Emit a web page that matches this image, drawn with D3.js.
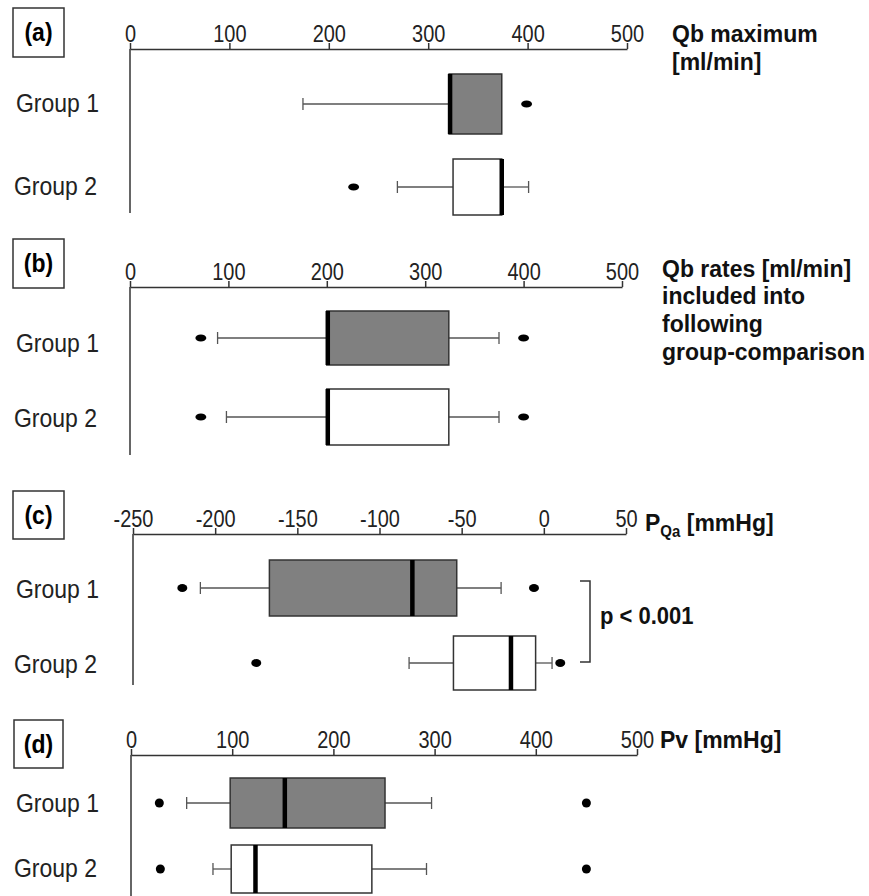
<!DOCTYPE html>
<html>
<head>
<meta charset="utf-8">
<script src="https://cdn.jsdelivr.net/npm/d3@7"></script>
<style>
body { margin: 0; background: #fff; }
svg text { font-family: "Liberation Sans", Arial, sans-serif; }
.tick text { font-size: 21px; fill: #222; }
.domain, .tick line { stroke: #333; stroke-width: 1.5; }
</style>
</head>
<body>
<svg id="chart" width="869" height="896"></svg>
<script>
// box stats per group: [whisker low, q1, median, q3, whisker high]
var groups = ["Group 1", "Group 2"];

var qbMaxStats = [[174, 321, 322, 374, 374], [269, 325, 374, 374, 401]];
var qbMaxOutliers = [[399], [225]];

var qbRatesStats = [[89, 200, 201, 324, 375], [98, 200, 201, 324, 375]];
var qbRatesOutliers = [[72, 400], [72, 400]];

var pqaStats = [[-209, -167, -80, -53, -26], [-82, -55, -20, -5, 5]];
var pqaOutliers = [[-220, -6], [-175, 10]];

var pvStats = [[55, 98, 152, 251, 297], [81, 99, 123, 238, 292]];
var pvOutliers = [[28, 450], [29, 450]];

var ticks0to500 = [0, 100, 200, 300, 400, 500];
var ticksPqa = [-250, -200, -150, -100, -50, 0, 50];

var svg = d3.select("#chart");

// panel layout (pixel positions only)
var panels = [
	{ tag: "(a)", stats: qbMaxStats, outliers: qbMaxOutliers, domain: [0, 500], ticks: ticks0to500,
	  x0: 130, x1: 627, axisY: 49, bottom: 213, cy: [104, 187], half: [30, 28], box: [13, 8, 51, 49],
	  labelY: [112, 195], dot: [5.5, 3.5] },
	{ tag: "(b)", stats: qbRatesStats, outliers: qbRatesOutliers, domain: [0, 500], ticks: ticks0to500,
	  x0: 130, x1: 622, axisY: 287, bottom: 455, cy: [338, 417], half: [27, 28], box: [13, 239, 51, 49],
	  labelY: [352, 427], dot: [5.5, 3.5] },
	{ tag: "(c)", stats: pqaStats, outliers: pqaOutliers, domain: [-250, 50], ticks: ticksPqa,
	  x0: 133, x1: 626, axisY: 534, bottom: 685, cy: [588, 663], half: [28, 27], box: [13, 491, 51, 48],
	  labelY: [598, 673], dot: [5, 4] },
	{ tag: "(d)", stats: pvStats, outliers: pvOutliers, domain: [0, 500], ticks: ticks0to500,
	  x0: 131, x1: 637, axisY: 755, bottom: 896, cy: [803, 869], half: [25, 24], box: [14, 720, 49, 48],
	  labelY: [812, 877], dot: [4.5, 4.5] }
];

var fills = ["#808080", "#ffffff"];

panels.forEach(function(p) {
	var g = svg.append("g");
	var x = d3.scaleLinear().domain(p.domain).range([p.x0, p.x1]);
	var y = d3.scalePoint().domain(groups).range(p.cy);

	// panel tag box
	g.append("rect")
		.attr("x", p.box[0]).attr("y", p.box[1])
		.attr("width", p.box[2]).attr("height", p.box[3])
		.attr("fill", "none").attr("stroke", "#333").attr("stroke-width", 1.5);
	g.append("text")
		.attr("transform", "translate(" + (p.box[0] + p.box[2] / 2) + "," + (p.box[1] + 33) + ") scale(1,1.15)")
		.attr("text-anchor", "middle")
		.attr("font-size", 23).attr("font-weight", "bold")
		.text(p.tag);

	// axes
	g.append("g")
		.attr("transform", "translate(0," + p.axisY + ")")
		.call(d3.axisTop(x).tickValues(p.ticks).tickSize(6).tickSizeOuter(0).tickPadding(0)
			.tickFormat(function(d) { return String(d); }))
		.selectAll(".tick text")
		.attr("transform", "scale(0.95,1.12)");
	g.append("line")
		.attr("x1", p.x0).attr("x2", p.x0)
		.attr("y1", p.axisY).attr("y2", p.bottom)
		.attr("stroke", "#333").attr("stroke-width", 1.5);

	// group labels
	groups.forEach(function(name, i) {
		g.append("text")
			.attr("transform", "translate(" + (i == 0 ? 16 : 14) + "," + p.labelY[i] + ") scale(1,1.1)")
			.attr("font-size", 23).attr("fill", "#222")
			.text(name);
	});

	// boxes
	p.stats.forEach(function(s, i) {
		var cy = y(groups[i]), h = p.half[i];
		// whiskers
		g.append("line")
			.attr("x1", x(s[0])).attr("x2", x(s[1]))
			.attr("y1", cy).attr("y2", cy)
			.attr("stroke", "#555").attr("stroke-width", 1.3);
		g.append("line")
			.attr("x1", x(s[3])).attr("x2", x(s[4]))
			.attr("y1", cy).attr("y2", cy)
			.attr("stroke", "#555").attr("stroke-width", 1.3);
		[s[0], s[4]].forEach(function(v, k) {
			if (v == s[k == 0 ? 1 : 3]) return;
			g.append("line")
				.attr("x1", x(v)).attr("x2", x(v))
				.attr("y1", cy - 6).attr("y2", cy + 6)
				.attr("stroke", "#555").attr("stroke-width", 1.3);
		});
		g.append("rect")
			.attr("x", x(s[1])).attr("y", cy - h)
			.attr("width", x(s[3]) - x(s[1])).attr("height", 2 * h)
			.attr("fill", fills[i]).attr("stroke", "#333").attr("stroke-width", 1.5);
		g.append("line")
			.attr("x1", x(s[2])).attr("x2", x(s[2]))
			.attr("y1", cy - h).attr("y2", cy + h)
			.attr("stroke", "#000").attr("stroke-width", 4.5);
		p.outliers[i].forEach(function(v) {
			g.append("ellipse")
				.attr("cx", x(v)).attr("cy", cy)
				.attr("rx", p.dot[0]).attr("ry", p.dot[1])
				.attr("fill", "#000");
		});
	});
});

// axis titles on the right
function bold(xp, yp, str, size) {
	return svg.append("text")
		.attr("transform", "translate(" + xp + "," + yp + ") scale(1,1.05)")
		.attr("font-size", size || 23).attr("font-weight", "bold").attr("fill", "#111")
		.text(str);
}
bold(672, 42, "Qb maximum");
bold(672, 70, "[ml/min]");
bold(662, 277, "Qb rates [ml/min]");
bold(662, 304, "included into");
bold(662, 332, "following");
bold(662, 360, "group-comparison");

var pqa = svg.append("text")
	.attr("transform", "translate(645,531) scale(1,1.05)")
	.attr("font-size", 23).attr("font-weight", "bold").attr("fill", "#111");
pqa.append("tspan").text("P");
pqa.append("tspan").attr("font-size", 15).attr("dy", 6).text("Qa");
pqa.append("tspan").attr("dy", -6).text(" [mmHg]");

bold(660, 748, "Pv [mmHg]");

// significance bracket for panel (c)
svg.append("path")
	.attr("d", "M580,581 L590,581 L590,662 L580,662")
	.attr("fill", "none").attr("stroke", "#333").attr("stroke-width", 1.5);
bold(600, 624, "p < 0.001", 22);
</script>
</body>
</html>
